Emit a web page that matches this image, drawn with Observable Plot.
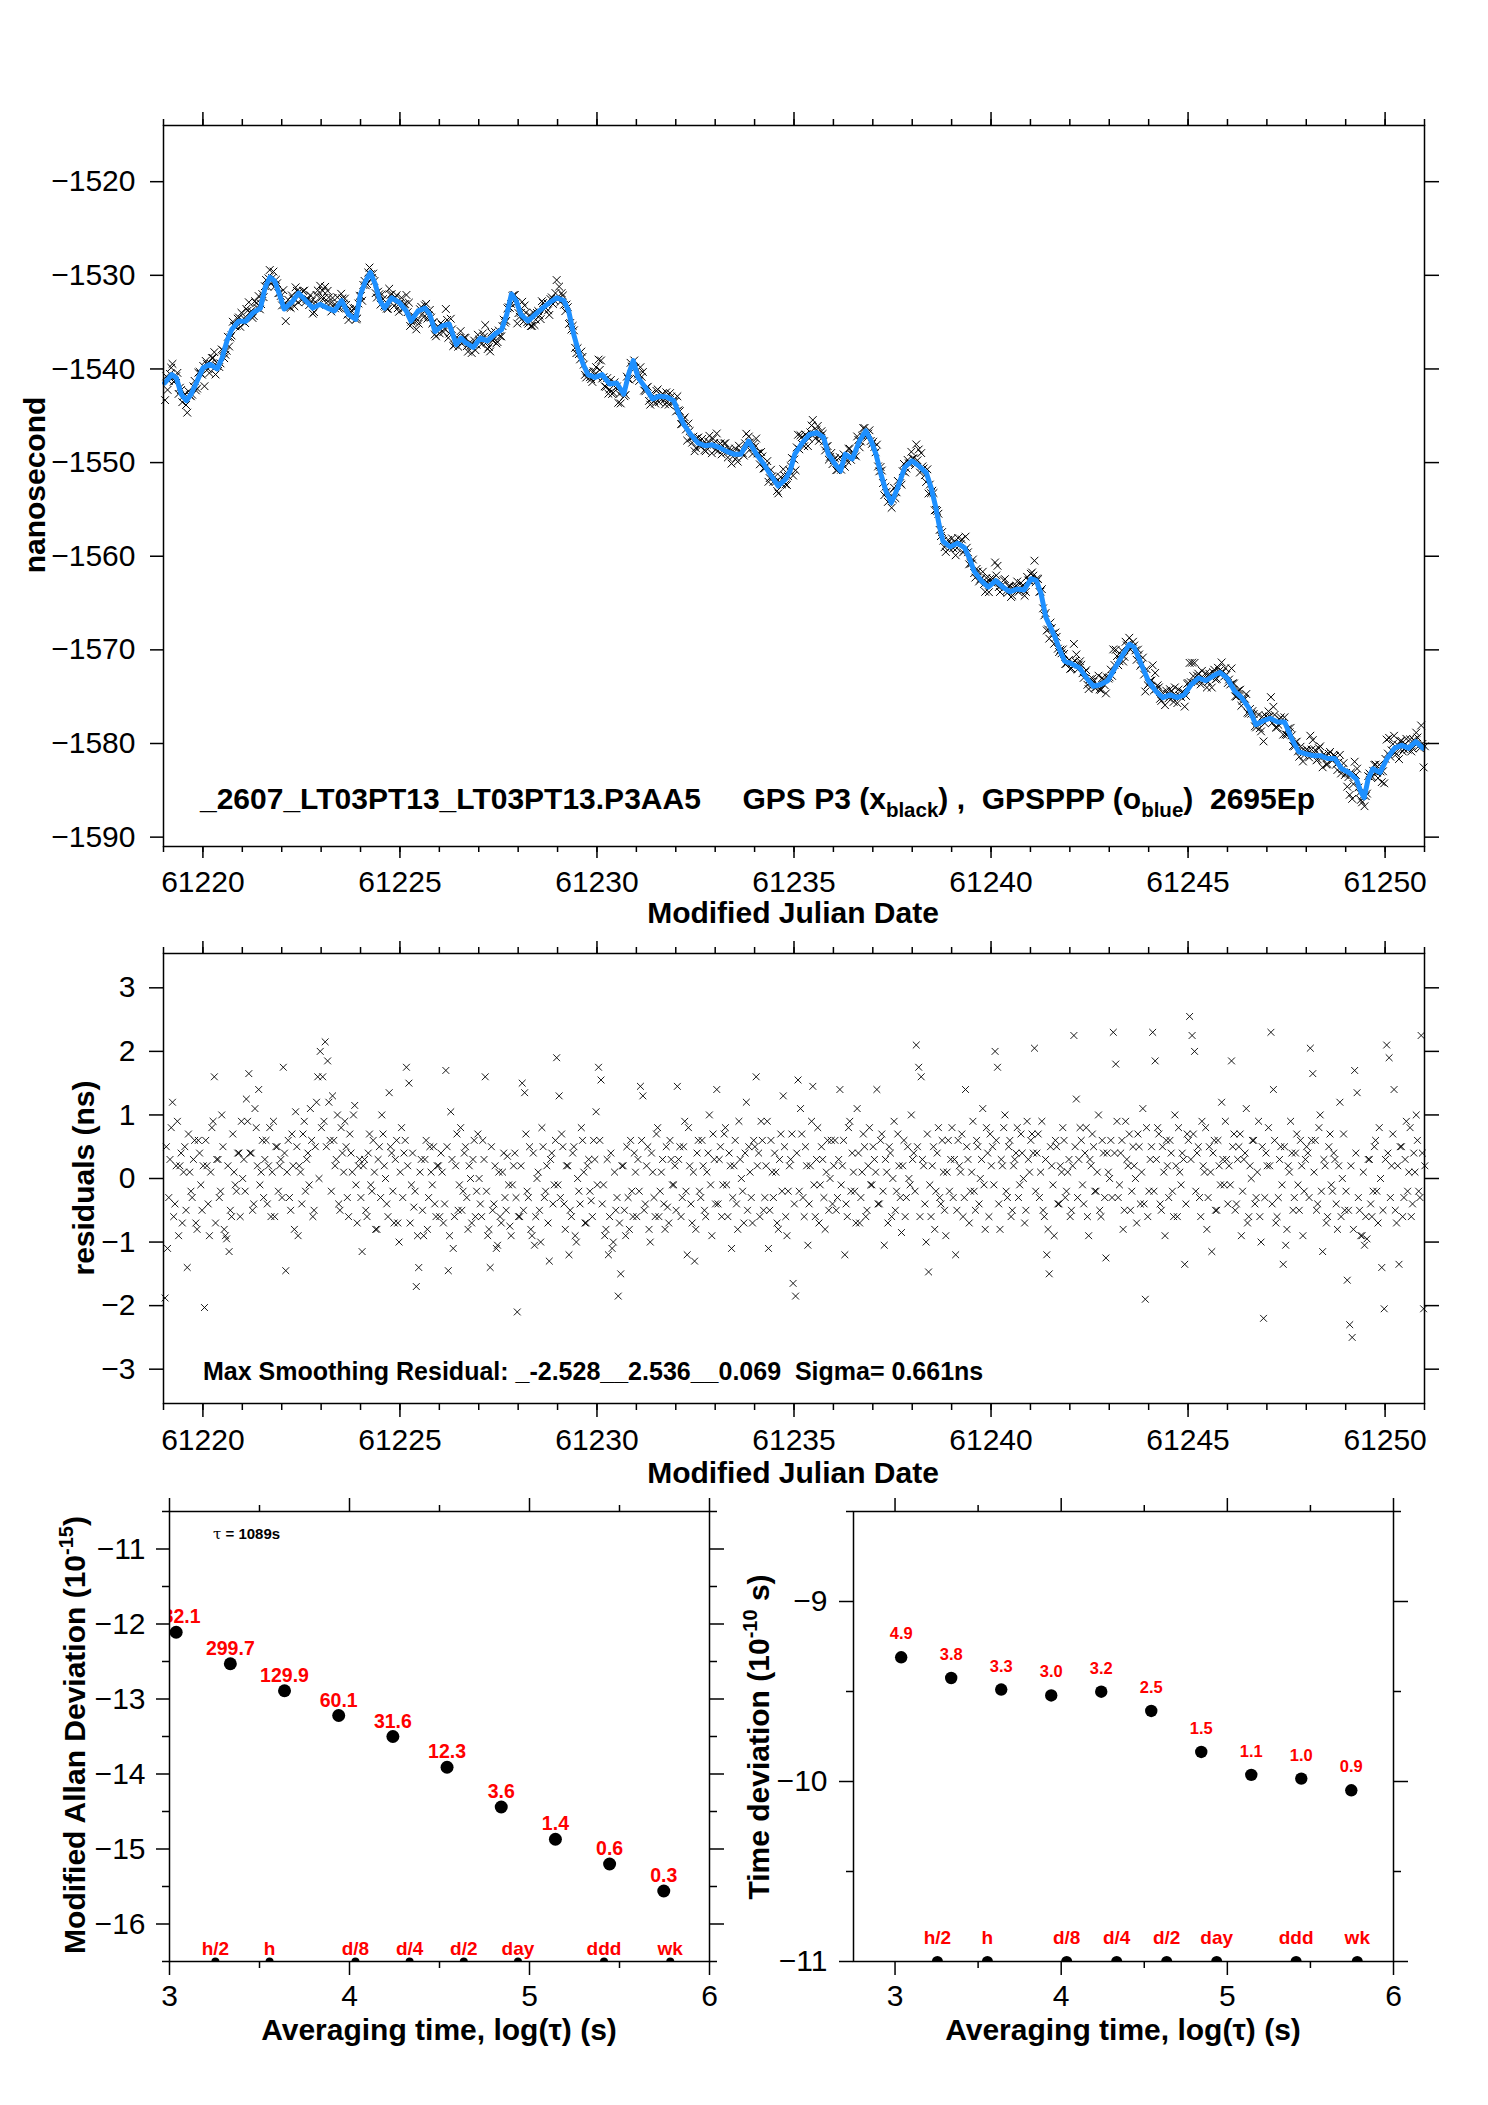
<!DOCTYPE html>
<html>
<head>
<meta charset="utf-8">
<script src="https://cdn.jsdelivr.net/npm/d3@7"></script>
<script src="https://cdn.jsdelivr.net/npm/@observablehq/plot@0.6"></script>
<style>
  html, body { margin: 0; padding: 0; background: #fff; }
  #page { position: relative; width: 1488px; height: 2105px; background: #fff; overflow: hidden; }
</style>
</head>
<body>
<div id="page"></div>
<script>
// ---------------- DATA ----------------
// Top panel: GPSPPP (blue) trace, MJD and nanoseconds
const tBlue = [61219.03,61219.21,61219.33,61219.45,61219.58,61219.70,61219.82,61220.00,61220.18,61220.36,61220.49,61220.61,61220.73,61220.91,61221.09,61221.27,61221.46,61221.58,61221.70,61221.82,61221.94,61222.06,61222.25,61222.43,61222.61,61222.79,61222.97,61223.16,61223.34,61223.52,61223.70,61223.88,61224.00,61224.13,61224.25,61224.37,61224.49,61224.61,61224.79,61224.98,61225.16,61225.28,61225.46,61225.64,61225.76,61225.89,61226.07,61226.25,61226.43,61226.55,61226.67,61226.86,61227.04,61227.22,61227.40,61227.58,61227.71,61227.83,61227.95,61228.07,61228.25,61228.43,61228.62,61228.80,61228.98,61229.16,61229.28,61229.41,61229.53,61229.65,61229.77,61229.95,61230.13,61230.32,61230.50,61230.68,61230.80,61230.92,61231.04,61231.23,61231.41,61231.59,61231.77,61231.95,61232.08,61232.20,61232.38,61232.56,61232.74,61232.92,61233.11,61233.29,61233.47,61233.65,61233.85,61234.05,61234.24,61234.42,61234.60,61234.78,61234.90,61235.02,61235.21,61235.39,61235.57,61235.75,61235.87,61236.05,61236.18,61236.30,61236.48,61236.66,61236.82,61236.96,61237.08,61237.21,61237.33,61237.47,61237.63,61237.81,61237.99,61238.18,61238.36,61238.48,61238.60,61238.68,61238.78,61238.96,61239.15,61239.33,61239.45,61239.57,61239.75,61239.93,61240.12,61240.30,61240.48,61240.66,61240.84,61241.02,61241.15,61241.27,61241.39,61241.51,61241.63,61241.75,61241.87,61242.05,61242.24,61242.42,61242.60,61242.78,61242.96,61243.15,61243.33,61243.51,61243.63,61243.81,61243.99,61244.18,61244.36,61244.54,61244.72,61244.90,61245.08,61245.27,61245.45,61245.63,61245.81,61245.99,61246.18,61246.36,61246.54,61246.72,61246.90,61247.08,61247.27,61247.45,61247.63,61247.81,61247.99,61248.18,61248.36,61248.54,61248.72,61248.90,61249.08,61249.27,61249.39,61249.47,61249.57,61249.69,61249.87,61250.05,61250.24,61250.42,61250.60,61250.78,61250.96];
const vBlue = [-1541.5,-1540.6,-1541.0,-1542.7,-1543.4,-1542.7,-1541.6,-1539.9,-1539.5,-1540.0,-1538.8,-1537.0,-1535.8,-1534.9,-1534.9,-1534.0,-1533.5,-1531.3,-1530.2,-1530.6,-1532.0,-1533.6,-1532.9,-1531.9,-1532.7,-1533.5,-1533.1,-1533.5,-1533.8,-1532.7,-1534.2,-1534.7,-1532.0,-1530.6,-1529.7,-1530.9,-1532.7,-1533.5,-1532.4,-1532.9,-1533.8,-1534.9,-1533.8,-1533.5,-1534.2,-1536.0,-1535.4,-1535.2,-1537.4,-1536.7,-1537.2,-1537.7,-1536.7,-1537.0,-1536.3,-1535.8,-1534.2,-1532.0,-1532.7,-1534.2,-1534.9,-1534.2,-1533.5,-1532.9,-1532.4,-1532.7,-1533.8,-1536.3,-1538.1,-1539.5,-1540.6,-1540.9,-1540.6,-1541.6,-1541.5,-1542.7,-1540.6,-1539.1,-1540.9,-1542.0,-1543.2,-1542.9,-1543.0,-1543.4,-1544.8,-1545.9,-1547.0,-1547.9,-1548.2,-1548.1,-1548.4,-1548.8,-1549.1,-1549.1,-1547.7,-1549.1,-1550.2,-1551.4,-1552.5,-1551.8,-1550.9,-1549.1,-1547.9,-1547.0,-1546.8,-1547.3,-1549.1,-1550.2,-1550.9,-1549.1,-1549.6,-1547.7,-1546.6,-1547.7,-1549.1,-1551.3,-1553.0,-1554.3,-1552.7,-1550.5,-1549.8,-1550.4,-1551.1,-1552.7,-1554.8,-1556.6,-1558.4,-1559.0,-1558.6,-1559.1,-1560.2,-1561.6,-1562.6,-1563.3,-1562.6,-1563.3,-1563.8,-1563.5,-1563.6,-1562.4,-1562.6,-1564.0,-1566.5,-1567.6,-1568.7,-1570.1,-1571.2,-1571.5,-1571.9,-1573.0,-1573.9,-1573.7,-1573.3,-1571.9,-1570.6,-1569.4,-1569.7,-1571.5,-1573.3,-1574.4,-1575.1,-1574.8,-1575.1,-1574.8,-1573.7,-1573.0,-1573.3,-1572.8,-1572.4,-1573.0,-1574.4,-1575.1,-1576.2,-1578.0,-1577.6,-1577.3,-1577.7,-1577.7,-1579.5,-1580.9,-1581.1,-1581.3,-1581.3,-1581.6,-1581.6,-1582.7,-1583.1,-1583.8,-1585.2,-1585.8,-1583.8,-1582.7,-1583.1,-1581.6,-1580.5,-1580.2,-1580.5,-1579.8,-1580.5];

// Middle panel: smoothing residuals (ns), 16 samples per day starting at RES_T0,
// and a second interleaved set starting half a step later
const RES_T0 = 61219.04;
const RES_PER_DAY = 16;
const residuals = [
  -1.88,-1.1,0.3,1.2,-0.4,0.9,0.2,-0.7,0.5,-1.4,0.1,-0.3,0.6,-0.8,0.4,-0.5,
  -2.03,0.2,-0.9,0.8,1.6,0.3,-0.3,1.0,-0.8,-0.95,-1.15,-0.6,0.1,-0.2,0.4,0.9,
  0.3,1.25,1.65,0.4,-0.4,0.8,1.4,0.1,-0.3,0.6,0.2,-0.6,0.9,0.5,-0.2,0.3,
  1.75,-1.45,0.6,-0.5,0.2,1.05,-0.9,0.1,0.7,-0.2,0.4,1.1,-0.6,0.5,1.6,2.0,
  1.6,2.15,1.85,0.6,1.3,0.2,1.0,-0.5,0.4,0.9,-0.3,0.7,0.1,1.15,-0.7,0.3,
  -1.15,0.3,-0.6,0.7,-0.2,0.1,-0.8,0.5,1.0,0.2,-0.4,1.35,0.4,-0.7,0.6,-1.0,
  0.8,0.4,1.75,1.5,-0.1,-0.45,-1.7,-1.4,0.3,-0.9,0.6,-0.3,0.1,0.5,-0.6,0.2,
  0.4,-0.7,1.7,-1.45,1.05,-1.1,0.2,-0.5,0.8,-0.2,0.5,-0.8,0.0,0.3,-0.6,0.7,
  -0.4,0.6,1.6,-0.9,-1.4,-0.5,0.2,-1.05,-0.6,0.1,-0.3,0.35,-0.75,-0.1,0.4,-2.1,
  -0.6,1.5,1.35,-0.2,0.5,-0.9,-1.05,0.0,-0.5,0.8,-0.3,0.2,-1.3,0.4,-0.1,1.9,
  1.3,0.7,-0.4,0.2,-1.2,-0.6,0.5,-1.0,-0.2,0.8,0.1,-0.7,0.3,-0.35,0.6,1.05,
  1.75,1.55,-0.1,-0.8,-1.2,0.4,-1.0,-0.5,-1.85,-1.5,0.2,-0.9,-0.3,0.6,-0.6,0.1,
  0.3,1.45,1.3,-0.4,0.5,-1.0,0.1,-0.6,0.8,-0.2,0.3,-0.8,-0.45,0.6,-0.1,0.2,
  1.45,0.5,-0.3,0.9,-1.2,0.2,-0.7,-1.3,0.4,-0.2,0.6,-0.5,0.1,1.0,-0.9,0.3,
  1.4,0.3,-0.6,0.7,-0.1,0.4,-1.1,0.2,-0.4,0.9,0.0,-0.7,1.2,0.5,-0.3,0.6,
  1.6,0.4,0.9,-0.5,0.2,-1.1,0.6,-0.3,0.1,-0.8,0.7,1.3,-0.6,-0.2,0.3,-1.65,
  -1.85,1.55,1.1,-0.3,0.5,-1.05,0.2,1.45,-0.6,0.8,-0.1,0.3,-0.8,0.6,0.0,-0.4,
  0.6,-0.3,1.4,0.2,-1.2,-0.6,0.9,0.4,-0.2,1.1,-0.7,0.1,0.5,-0.5,0.8,-0.1,
  0.3,1.4,-0.4,0.7,-1.05,0.1,0.5,-0.6,0.9,-0.2,0.2,-0.85,0.6,-0.3,0.0,1.0,
  0.4,2.1,1.75,1.6,0.2,-1.0,-1.47,-0.6,0.5,-0.2,0.8,-0.4,0.1,-0.9,0.6,0.3,
  -0.3,-1.2,0.6,0.1,-0.6,1.4,0.3,-0.2,0.9,-0.5,0.5,0.0,1.1,-0.8,0.4,0.7,
  0.5,2.0,1.75,-0.8,0.2,1.0,-0.3,0.6,-0.5,0.3,0.8,-0.1,0.4,-0.7,0.9,0.1,
  0.7,2.05,0.4,-0.3,0.9,-0.6,-1.2,-1.5,0.2,-0.9,0.5,-0.4,0.1,0.6,-0.2,0.3,
  -0.5,2.25,1.25,0.3,0.6,-0.4,0.8,-0.9,0.2,0.5,-0.2,1.0,-0.6,0.4,-1.25,0.1,
  0.6,2.3,1.8,-0.3,0.4,-0.8,0.9,0.2,-0.5,0.5,0.0,0.7,-0.4,1.1,-1.9,-0.6,
  0.3,2.3,1.85,0.8,-0.4,0.5,-0.9,0.2,0.6,-0.2,1.0,-0.6,0.1,0.4,-1.35,0.7,
  2.55,2.25,2.0,0.4,-0.3,0.9,0.1,-0.8,0.5,-1.15,0.6,-0.5,0.2,1.2,-0.1,0.3,
  0.2,1.85,0.7,-0.4,0.5,-0.9,0.3,1.1,-0.6,0.0,0.6,-0.3,0.9,-1.0,-2.2,0.4,
  0.8,2.3,1.4,-0.7,-0.3,0.5,-1.35,-1.05,0.2,0.9,-0.5,0.4,-0.1,0.6,-0.9,0.3,
  0.4,2.05,1.65,0.6,-0.4,1.0,-1.15,0.2,-0.6,0.7,-0.2,0.3,-0.8,1.2,0.0,-0.5,
  -1.6,-2.3,-2.5,1.7,1.35,-0.5,-0.9,-1.05,-0.95,0.3,-0.6,0.5,-0.2,0.8,-1.4,-2.05,
  2.1,1.9,0.2,1.4,-0.7,-1.35,0.5,-0.3,0.9,0.1,-0.6,0.4,1.0,-0.2,2.25,-2.05
];
const residuals2 = [
  0.5,-0.3,0.8,-0.6,0.2,-0.9,0.4,0.1,-0.5,0.7,-0.2,0.3,-0.7,0.6,-0.1,0.2,
  0.6,-0.4,0.1,0.9,-0.7,0.3,-0.2,0.5,-0.9,0.2,-0.5,0.7,-0.1,0.4,-0.6,0.0,
  -0.2,0.9,0.4,-0.5,1.1,0.2,-0.1,0.6,0.3,-0.4,0.8,0.1,-0.6,0.5,0.2,-0.3,
  0.4,0.1,-0.3,0.7,-0.8,0.5,0.2,-0.4,0.9,0.3,-0.1,0.6,-0.5,1.2,0.0,0.8,
  0.9,0.5,1.2,-0.2,0.6,0.3,-0.4,0.8,0.1,0.5,-0.6,0.4,1.0,-0.1,0.2,-0.3,
  0.2,-0.5,0.4,-0.1,0.6,-0.8,0.3,-0.3,0.7,0.0,-0.6,0.5,-0.2,0.3,-0.7,0.1,
  -0.3,0.6,0.2,-0.7,0.4,-0.2,-0.9,0.1,-0.5,0.3,-0.8,0.5,-0.1,-0.4,0.2,-0.6,
  0.1,-0.4,0.5,-0.9,0.3,-0.6,0.7,-0.1,-0.5,0.4,-0.3,0.2,-0.7,0.6,-0.2,0.0,
  -0.6,0.3,-0.2,-0.8,0.5,-0.4,-1.1,0.1,-0.7,0.4,-0.5,-0.1,-0.9,0.2,-0.3,-0.6,
  0.2,-0.5,0.7,-0.3,-0.8,0.4,-0.6,0.1,-1.0,0.5,-0.2,-0.7,0.3,-0.4,0.6,-0.1,
  -0.3,0.5,-0.8,0.2,-0.5,0.4,-0.9,0.0,-0.4,0.6,-0.7,0.2,-0.2,-0.6,0.3,-0.1,
  0.6,-0.4,-0.9,0.3,-0.6,-1.1,0.1,-0.3,-0.7,0.2,-0.5,0.5,-0.8,-0.2,0.4,-0.6,
  -0.2,0.6,-0.5,0.2,-0.8,0.4,-0.3,0.7,-0.6,0.1,-0.4,0.5,-0.7,0.3,-0.1,-0.5,
  0.3,-0.6,0.5,-0.2,0.8,-0.4,0.1,-0.8,0.6,-0.3,0.2,-0.6,0.4,-0.1,0.7,-0.4,
  -0.4,0.5,-0.1,0.8,-0.6,0.2,-0.3,0.6,-0.8,0.3,-0.2,0.4,-0.5,0.1,-0.7,0.5,
  0.2,-0.6,0.6,-0.3,0.9,-0.5,0.1,0.4,-0.7,0.3,-0.2,0.5,-0.9,0.2,0.7,-0.4,
  0.4,-0.2,0.7,-0.6,0.2,-0.4,0.9,-0.1,0.3,-0.7,0.5,-0.3,0.1,-0.5,0.6,0.2,
  -0.5,0.3,-0.1,0.6,-0.4,0.8,-0.2,0.1,-0.7,0.4,-0.3,0.7,-0.6,0.2,-0.1,0.5,
  0.1,-0.4,0.6,-0.2,0.3,-0.7,0.4,0.0,-0.5,0.7,-0.3,0.2,-0.6,0.5,-0.1,0.3,
  -0.2,0.5,-0.6,0.3,-0.4,0.7,-0.1,0.2,-0.8,0.4,-0.3,0.6,-0.5,0.1,-0.2,0.8,
  0.3,-0.5,0.2,0.7,-0.3,0.5,-0.7,0.1,-0.2,0.6,-0.4,0.3,-0.1,0.8,-0.6,0.2,
  -0.1,0.6,-0.4,0.3,0.8,-0.2,0.5,-0.6,0.2,0.4,-0.3,0.7,0.0,-0.5,0.3,0.6,
  0.4,-0.2,0.7,0.1,-0.5,0.3,-0.8,0.5,-0.1,0.6,-0.4,0.2,0.8,-0.3,0.1,-0.6,
  0.2,0.5,-0.3,0.8,-0.1,0.4,-0.6,0.3,0.7,-0.2,0.1,-0.5,0.6,-0.3,0.4,0.0,
  -0.3,0.4,0.9,-0.1,0.6,-0.5,0.3,0.7,-0.2,0.2,-0.7,0.5,0.1,-0.4,0.8,-0.2,
  0.5,-0.2,0.3,0.7,-0.5,0.1,0.6,-0.3,0.4,-0.6,0.2,0.8,-0.1,0.3,-0.4,0.6,
  0.3,0.7,-0.2,0.5,-0.6,0.2,0.8,-0.3,0.1,0.4,-0.5,0.6,-0.1,0.3,0.9,-0.4,
  -0.1,0.5,-0.5,0.3,0.7,-0.2,0.4,-0.7,0.2,0.6,-0.4,0.1,-0.6,0.5,-0.3,0.2,
  0.2,-0.4,0.6,-0.6,0.3,-0.1,0.5,-0.8,0.1,0.4,-0.3,0.7,-0.5,0.2,-0.2,0.5,
  -0.3,0.6,0.1,-0.5,0.8,-0.2,0.3,-0.7,0.5,-0.1,0.4,-0.4,0.2,-0.6,0.7,-0.2,
  -0.5,0.2,-0.8,0.4,-0.3,-0.9,0.1,-0.6,0.3,-0.4,-0.2,0.6,-0.7,0.0,-0.5,0.3,
  0.4,-0.3,0.7,-0.5,0.2,0.5,-0.6,0.3,-0.2,0.8,-0.4,0.1,0.6,-0.3,0.4,0.2
];

// Bottom-left: Modified Allan deviation, log10(tau) and log10(mdev)
const adevLogTau = [3.037,3.338,3.639,3.940,4.241,4.542,4.843,5.144,5.445,5.746];
const adevLog    = [-12.11,-12.53,-12.89,-13.22,-13.50,-13.91,-14.44,-14.87,-15.20,-15.56];
const adevLabels = ["782.1","299.7","129.9","60.1","31.6","12.3","3.6","1.4","0.6","0.3"];

// Bottom-right: time deviation
const tdevLogTau = [3.037,3.338,3.639,3.940,4.241,4.542,4.843,5.144,5.445,5.746];
const tdevLog    = [-9.31,-9.425,-9.489,-9.522,-9.501,-9.608,-9.836,-9.963,-9.984,-10.049];
const tdevLabels = ["4.9","3.8","3.3","3.0","3.2","2.5","1.5","1.1","1.0","0.9"];

// Reference averaging times marked on the bottom axes
const refNames  = ["h/2","h","d/8","d/4","d/2","day","ddd","wk"];
const refLogTau = [3.255,3.556,4.033,4.334,4.635,4.936,5.414,5.782];

// Tick labels
const mjdTicks   = [61220,61225,61230,61235,61240,61245,61250];
const nsTicks    = [-1520,-1530,-1540,-1550,-1560,-1570,-1580,-1590];
const residTicks = [-3,-2,-1,0,1,2,3];
const logTauTicks = [3,4,5,6];
const adevTicks  = [-11,-12,-13,-14,-15,-16];
const tdevTicks  = [-9,-10,-11];

// ---------------- BUILD ----------------
const FONT = '"Liberation Sans", Arial, Helvetica, sans-serif';
const page = document.getElementById("page");
const fmtInt = d3.format("d");

const blueRows = tBlue.map((t, i) => ({t, v: vBlue[i]}));
const residRows = residuals.map((r, i) => ({t: RES_T0 + i / RES_PER_DAY, r}))
  .concat(residuals2.map((r, i) => ({t: RES_T0 + (i + 0.5) / RES_PER_DAY, r})));
function blueAt(t) {
  const i = d3.bisectLeft(tBlue, t);
  if (i <= 0) return vBlue[0];
  if (i >= tBlue.length) return vBlue[vBlue.length - 1];
  const f = (t - tBlue[i - 1]) / (tBlue[i] - tBlue[i - 1]);
  return vBlue[i - 1] + f * (vBlue[i] - vBlue[i - 1]);
}
// black P3 points = smooth + residual
const blackRows = residRows.map(d => ({t: d.t, v: blueAt(d.t) + d.r}));

const adevRows = adevLogTau.map((x, i) => ({x, y: adevLog[i], label: adevLabels[i]}));
const tdevRows = tdevLogTau.map((x, i) => ({x, y: tdevLog[i], label: tdevLabels[i]}));
const refRows = refLogTau.map((x, i) => ({x, name: refNames[i]}));

function place(svg, left, top) {
  svg.style.position = "absolute";
  svg.style.left = left + "px";
  svg.style.top = top + "px";
  svg.style.background = "transparent";
  svg.style.overflow = "visible";
  svg.style.maxWidth = "none";
  page.appendChild(svg);
}

function axes(o) {
  const sw = 1.5;
  const tickOnly = {fill: "none", label: null, strokeWidth: sw};
  return [
    Plot.axisX({anchor: "bottom", ticks: o.xMaj, tickSize: o.bMaj, tickPadding: o.xPad, tickFormat: fmtInt, fontSize: 30, label: null, strokeWidth: sw}),
    Plot.axisX({anchor: "bottom", ticks: o.xMin, tickSize: o.bMin, ...tickOnly}),
    Plot.axisX({anchor: "top", ticks: o.xMaj, tickSize: o.tMaj, ...tickOnly}),
    Plot.axisX({anchor: "top", ticks: o.xMin, tickSize: o.tMin, ...tickOnly}),
    Plot.axisY({anchor: "left", ticks: o.yMaj, tickSize: o.lMaj, tickPadding: o.yPad, tickFormat: fmtInt, fontSize: 30, label: null, strokeWidth: sw}),
    o.yMin.length ? Plot.axisY({anchor: "left", ticks: o.yMin, tickSize: o.lMin, ...tickOnly}) : null,
    Plot.axisY({anchor: "right", ticks: o.yMaj, tickSize: o.rMaj, ...tickOnly}),
    o.yMin.length ? Plot.axisY({anchor: "right", ticks: o.yMin, tickSize: o.rMin, ...tickOnly}) : null,
    Plot.frame({stroke: "black", strokeWidth: 1.5})
  ];
}

const dayTicks = d3.range(61219, 61252);

// Top panel
const topPlot = Plot.plot({
  width: 1488, height: 900,
  marginLeft: 163, marginRight: 64, marginTop: 125, marginBottom: 54,
  style: {fontFamily: FONT, fontSize: "30px", background: "transparent"},
  x: {domain: [61219, 61251]},
  y: {domain: [-1591, -1514]},
  marks: [
    Plot.dot(blackRows, {x: "t", y: "v", symbol: "times", r: 3.6, stroke: "black", strokeWidth: 1}),
    Plot.line(blueRows, {x: "t", y: "v", stroke: "#1E90FF", strokeWidth: 5, strokeLinejoin: "round", curve: "linear"}),
    ...axes({xMaj: mjdTicks, xMin: dayTicks, bMaj: 12, bMin: 6, tMaj: 14, tMin: 7, xPad: 12,
             yMaj: nsTicks, yMin: [], lMaj: 13, lMin: 6, rMaj: 14, rMin: 6, yPad: 15})
  ]
});
place(topPlot, 0, 0);

// Middle panel
const midPlot = Plot.plot({
  width: 1488, height: 560,
  marginLeft: 163, marginRight: 64, marginTop: 53, marginBottom: 57,
  style: {fontFamily: FONT, fontSize: "30px", background: "transparent"},
  x: {domain: [61219, 61251]},
  y: {domain: [-3.54, 3.54]},
  marks: [
    Plot.dot(residRows, {x: "t", y: "r", symbol: "times", r: 3.2, stroke: "black", strokeWidth: 0.9}),
    ...axes({xMaj: mjdTicks, xMin: dayTicks, bMaj: 14, bMin: 7, tMaj: 13, tMin: 7, xPad: 11,
             yMaj: residTicks, yMin: [], lMaj: 14, lMin: 6, rMaj: 14, rMin: 6, yPad: 14})
  ]
});
place(midPlot, 0, 900);

// Bottom-left: MDEV
const adevPlot = Plot.plot({
  width: 744, height: 665,
  marginLeft: 169, marginRight: 35, marginTop: 71, marginBottom: 144,
  style: {fontFamily: FONT, fontSize: "30px", background: "transparent"},
  x: {domain: [3, 6]},
  y: {domain: [-16.5, -10.5]},
  marks: [
    Plot.dot(refRows, {x: "x", y: () => -16.5, r: 4, fill: "black", clip: true}),
    Plot.text(refRows, {x: "x", y: () => -16.5, text: "name", dy: -7, lineAnchor: "bottom", fill: "red", fontWeight: "bold", fontSize: 19}),
    Plot.dot(adevRows, {x: "x", y: "y", r: 6.5, fill: "black"}),
    Plot.text(adevRows, {x: "x", y: "y", text: "label", dy: -9, lineAnchor: "bottom", fill: "red", fontWeight: "bold", fontSize: 19.5, clip: true}),
    ...axes({xMaj: logTauTicks, xMin: [3.5, 4.5, 5.5], bMaj: 14, bMin: 7, tMaj: 14, tMin: 7, xPad: 9,
             yMaj: adevTicks, yMin: [-10.5, -11.5, -12.5, -13.5, -14.5, -15.5, -16.5], lMaj: 13, lMin: 7, rMaj: 14, rMin: 7, yPad: 11})
  ]
});
place(adevPlot, 0, 1440);

// Bottom-right: TDEV
const tdevPlot = Plot.plot({
  width: 744, height: 665,
  marginLeft: 109, marginRight: 95, marginTop: 71, marginBottom: 144,
  style: {fontFamily: FONT, fontSize: "30px", background: "transparent"},
  x: {domain: [2.75, 6]},
  y: {domain: [-11, -8.5]},
  marks: [
    Plot.dot(refRows, {x: "x", y: () => -11, r: 5.5, fill: "black", clip: true}),
    Plot.text(refRows, {x: "x", y: () => -11, text: "name", dy: -18, lineAnchor: "bottom", fill: "red", fontWeight: "bold", fontSize: 19}),
    Plot.dot(tdevRows, {x: "x", y: "y", r: 6.2, fill: "black"}),
    Plot.text(tdevRows, {x: "x", y: "y", text: "label", dy: -18, lineAnchor: "bottom", fill: "red", fontWeight: "bold", fontSize: 16.5}),
    ...axes({xMaj: logTauTicks, xMin: [3.5, 4.5, 5.5], bMaj: 14, bMin: 7, tMaj: 14, tMin: 7, xPad: 9,
             yMaj: tdevTicks, yMin: [-8.5, -9.5, -10.5], lMaj: 14, lMin: 7, rMaj: 14, rMin: 7, yPad: 12})
  ]
});
place(tdevPlot, 744, 1440);

// ---------------- TITLES / ANNOTATIONS ----------------
const ov = d3.create("svg")
  .attr("width", 1488).attr("height", 2105)
  .style("position", "absolute").style("left", "0px").style("top", "0px")
  .style("pointer-events", "none")
  .style("font-family", FONT);

function btext(x, y, size, anchor, rotate) {
  const t = ov.append("text")
    .attr("font-weight", "bold")
    .attr("font-size", size)
    .attr("text-anchor", anchor)
    .attr("fill", "black")
    .style("white-space", "pre");
  if (rotate) t.attr("transform", `translate(${x},${y}) rotate(-90)`);
  else t.attr("x", x).attr("y", y);
  return t;
}

btext(45, 485, 30, "middle", true).text("nanosecond");
btext(793, 923, 30, "middle").text("Modified Julian Date");
btext(94, 1178, 30, "middle", true).text("residuals (ns)");
btext(793, 1483, 30, "middle").text("Modified Julian Date");

// top annotation with subscripts
{
  const t = btext(200, 809, 30, "start");
  t.append("tspan").text("_2607_LT03PT13_LT03PT13.P3AA5     GPS P3 (x");
  t.append("tspan").attr("font-size", 20.5).attr("dy", 8).text("black");
  t.append("tspan").attr("dy", -8).text(") ,  GPSPPP (o");
  t.append("tspan").attr("font-size", 20.5).attr("dy", 8).text("blue");
  t.append("tspan").attr("dy", -8).text(")  2695Ep");
}
btext(203, 1380, 25, "start").text("Max Smoothing Residual: _-2.528__2.536__0.069  Sigma= 0.661ns");

// tau annotation
{
  const t = btext(213, 1539, 15, "start");
  t.append("tspan").attr("font-family", '"DejaVu Serif", "Liberation Serif", serif').attr("font-weight", "normal").text("τ");
  t.append("tspan").text(" = 1089s");
}

// rotated y titles with superscripts
{
  const t = btext(85, 1735, 30, "middle", true);
  t.append("tspan").text("Modified Allan Deviation (10");
  t.append("tspan").attr("font-size", 20).attr("dy", -12).text("-15");
  t.append("tspan").attr("dy", 12).text(")");
}
{
  const t = btext(769, 1737, 30, "middle", true);
  t.append("tspan").text("Time deviation (10");
  t.append("tspan").attr("font-size", 20).attr("dy", -12).text("-10");
  t.append("tspan").attr("dy", 12).text(" s)");
}

// x titles
btext(439, 2040, 30, "middle").text("Averaging time, log(τ) (s)");
btext(1123, 2040, 30, "middle").text("Averaging time, log(τ) (s)");

page.appendChild(ov.node());
</script>
</body>
</html>
